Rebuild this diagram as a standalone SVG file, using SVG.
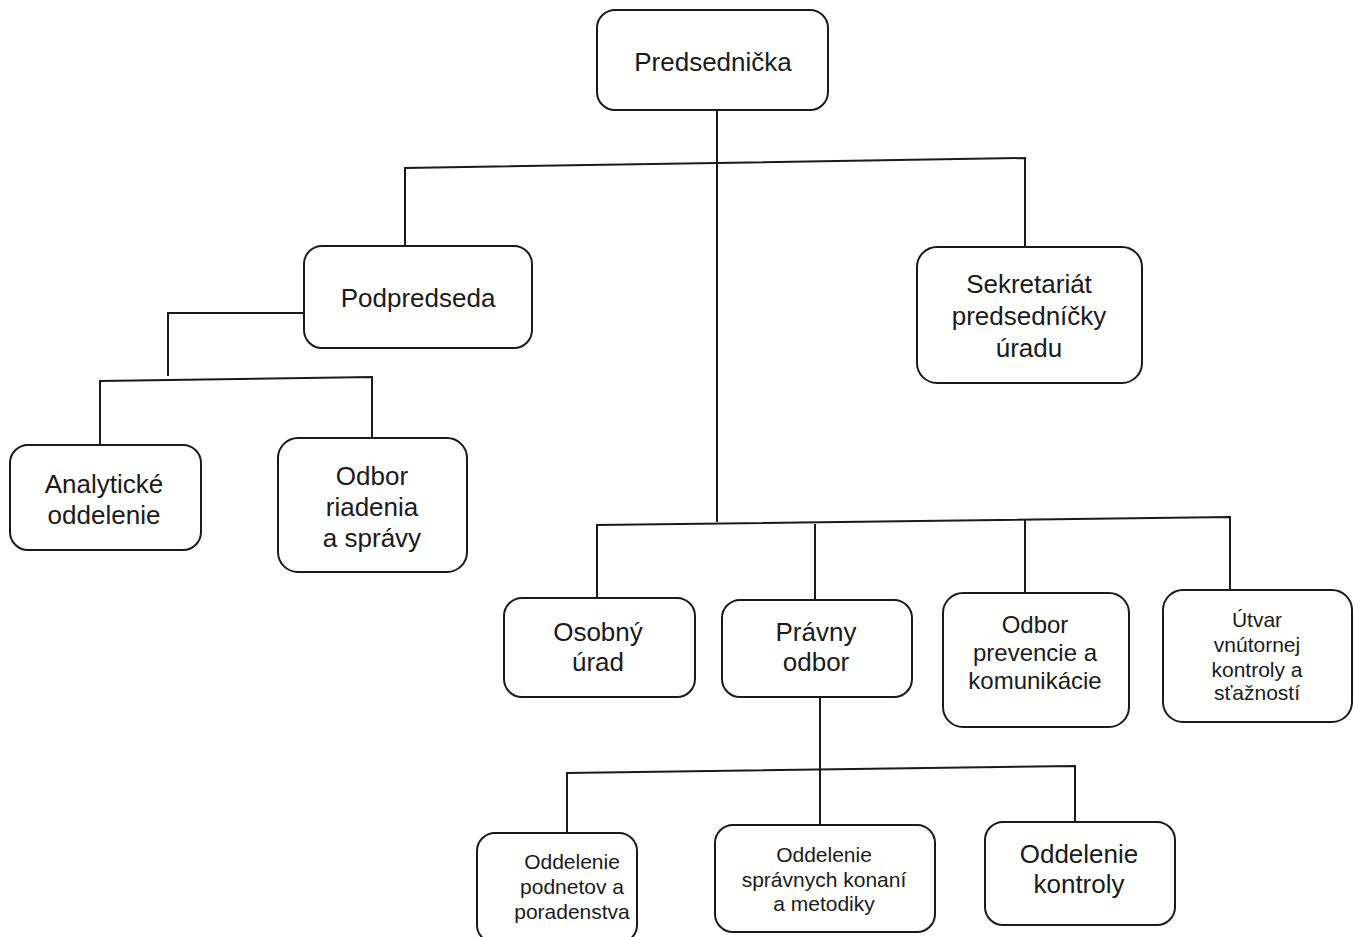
<svg xmlns="http://www.w3.org/2000/svg" width="1355" height="937" viewBox="0 0 1355 937">
<style>
.box{fill:#fff;stroke:#1a1a1a;stroke-width:2}
.ln{fill:none;stroke:#1a1a1a;stroke-width:2}
text{font-family:"Liberation Sans",Arial,sans-serif;fill:#1a1a1a;text-anchor:middle}
.f22{font-size:26px}.f20{font-size:24px}.f18{font-size:21px}.f17{font-size:21px}
</style>
<rect width="1355" height="937" fill="#fff"/>
<g id="connectors">
<path class="ln" d="M717 110 V522"/>
<path class="ln" d="M405 245 V168 L1025 158 V248"/>
<path class="ln" d="M304 313 H168 V376"/>
<path class="ln" d="M100 445 V381 L372 377 V438"/>
<path class="ln" d="M597 598 V525 L1230 517 V590"/>
<path class="ln" d="M815 524 V600"/>
<path class="ln" d="M1025 519 V595"/>
<path class="ln" d="M820 697 V770"/>
<path class="ln" d="M567 833 V773 L1075 766 V822"/>
<path class="ln" d="M820 770 V825"/>
</g>
<g id="n-predsednicka"><rect class="box" x="597" y="10" width="231" height="100" rx="18"/><text class="f22" x="713" y="71">Predsednička</text></g>
<g id="n-podpredseda"><rect class="box" x="304" y="246" width="228" height="102" rx="18"/><text class="f22" x="418" y="307">Podpredseda</text></g>
<g id="n-sekretariat"><rect class="box" x="917" y="247" width="225" height="136" rx="20"/><text class="f22" x="1029" y="293">Sekretariát</text><text class="f22" x="1029" y="325">predsedníčky</text><text class="f22" x="1029" y="357">úradu</text></g>
<g id="n-analyticke"><rect class="box" x="10" y="445" width="191" height="105" rx="18"/><text class="f22" x="104" y="493">Analytické</text><text class="f22" x="104" y="524">oddelenie</text></g>
<g id="n-odbor-riadenia"><rect class="box" x="278" y="438" width="189" height="134" rx="20"/><text class="f22" x="372" y="485">Odbor</text><text class="f22" x="372" y="516">riadenia</text><text class="f22" x="372" y="547">a správy</text></g>
<g id="n-osobny"><rect class="box" x="504" y="598" width="191" height="99" rx="18"/><text class="f22" x="598" y="641">Osobný</text><text class="f22" x="598" y="671">úrad</text></g>
<g id="n-pravny"><rect class="box" x="722" y="600" width="190" height="97" rx="18"/><text class="f22" x="816" y="641">Právny</text><text class="f22" x="816" y="671">odbor</text></g>
<g id="n-prevencia"><rect class="box" x="943" y="593" width="186" height="134" rx="20"/><text class="f20" x="1035" y="633">Odbor</text><text class="f20" x="1035" y="661">prevencie a</text><text class="f20" x="1035" y="689">komunikácie</text></g>
<g id="n-utvar"><rect class="box" x="1163" y="590" width="189" height="132" rx="20"/><text class="f18" x="1257" y="627">Útvar</text><text class="f18" x="1257" y="652">vnútornej</text><text class="f18" x="1257" y="677">kontroly a</text><text class="f18" x="1257" y="700">sťažností</text></g>
<g id="n-podnetov"><rect class="box" x="477" y="833" width="160" height="110" rx="18"/><text class="f17" x="572" y="869">Oddelenie</text><text class="f17" x="572" y="894">podnetov a</text><text class="f17" x="572" y="919">poradenstva</text></g>
<g id="n-spravnych"><rect class="box" x="715" y="825" width="220" height="107" rx="18"/><text class="f17" x="824" y="862">Oddelenie</text><text class="f17" x="824" y="887">správnych konaní</text><text class="f17" x="824" y="911">a metodiky</text></g>
<g id="n-kontroly"><rect class="box" x="985" y="822" width="190" height="103" rx="18"/><text class="f22" x="1079" y="863">Oddelenie</text><text class="f22" x="1079" y="893">kontroly</text></g>
</svg>
